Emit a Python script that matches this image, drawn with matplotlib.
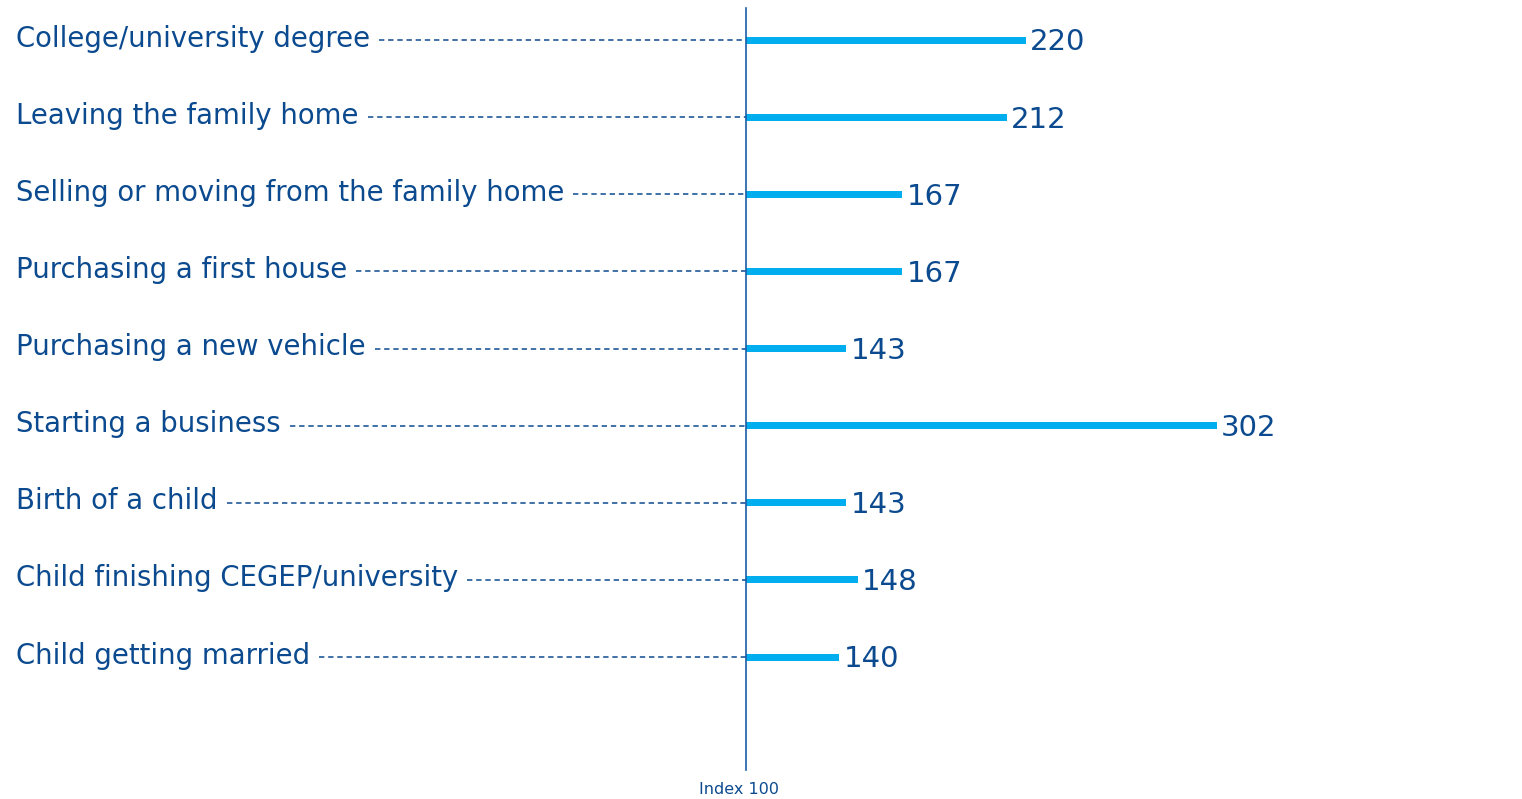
import matplotlib
matplotlib.use('Agg')
import matplotlib.pyplot as plt

plt.rcParams['font.family'] = ['DejaVu Sans']

# data
labels = ['College/university degree', 'Leaving the family home',
          'Selling or moving from the family home', 'Purchasing a first house',
          'Purchasing a new vehicle', 'Starting a business', 'Birth of a child',
          'Child finishing CEGEP/university', 'Child getting married']
values = [220, 212, 167, 167, 143, 302, 143, 148, 140]
base = 100

dark = '#0b4a8f'
bar_col = '#00aeef'

fig = plt.figure(figsize=(15.22, 7.99), dpi=100)
ax = fig.add_axes([0, 0, 1, 1])
ax.set_xlim(-220.2, 433)
ax.set_ylim(9.84, -0.52)
ax.axis('off')

ys = list(range(len(labels)))
ax.barh(ys, [v - base for v in values], left=base, height=0.09, color=bar_col, zorder=3)
ax.plot([base, base], [-0.41, 9.47], color='#1a5ea8', lw=1.2, zorder=4)
ax.text(base - 3, 9.72, 'Index 100', ha='center', va='center', fontsize=11.5, color=dark)

texts = []
for y, lab, v in zip(ys, labels, values):
    t = ax.text(16 / 1522, y - 0.02, lab, transform=ax.get_yaxis_transform(),
                ha='left', va='center', fontsize=19.8, color=dark)
    texts.append(t)
    ax.annotate(f'{v}', (v, y + 0.03), xytext=(3, 0), textcoords='offset points',
                ha='left', va='center', fontsize=21, color=dark)

# dashed leaders from end of label to index line
fig.canvas.draw()
r = fig.canvas.get_renderer()
inv = ax.transData.inverted()
for t, y in zip(texts, ys):
    bb = t.get_window_extent(renderer=r)
    x0 = inv.transform((bb.x1 + 9, 0))[0]
    ax.plot([x0, base], [y, y], color=dark, lw=1.1, ls=(0, (3.5, 2.5)), zorder=2)

fig.savefig('out.png', dpi=100)
